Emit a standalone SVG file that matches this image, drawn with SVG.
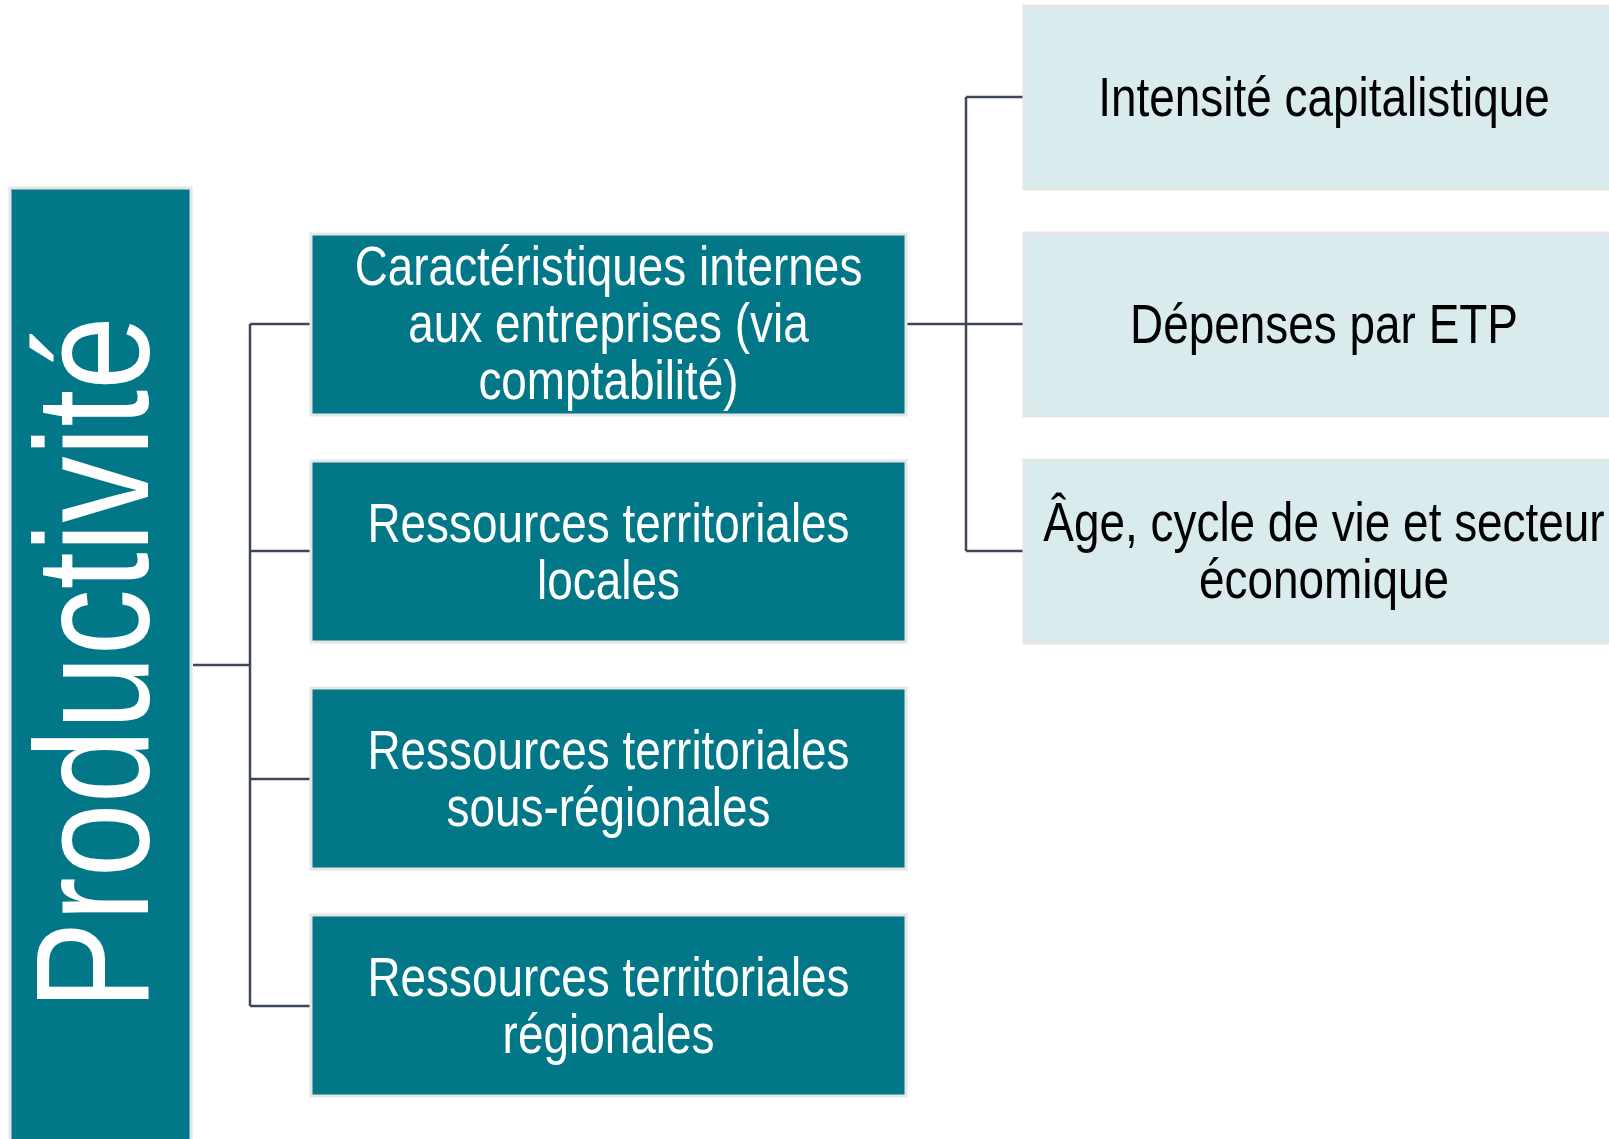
<svg xmlns="http://www.w3.org/2000/svg" width="1609" height="1139" viewBox="0 0 1609 1139">
<style>
.dark{fill:#017788;stroke:#E6E6E6;stroke-width:3}
.light{fill:#DAEBEE;stroke:#E6E6E6;stroke-width:3}
.t{font-family:"Liberation Sans",Arial,sans-serif;font-size:56px;text-anchor:middle}
.w{fill:#FFFFFF}
.b{fill:#000000}
.big{font-family:"Liberation Sans",Arial,sans-serif;font-size:162px;text-anchor:middle;fill:#FFFFFF}
.c{fill:none;stroke:#3D4759;stroke-width:2.5}
</style>
<rect width="1609" height="1139" fill="#FFFFFF"/>
<g id="connectors">
<path class="c" d="M193 665H250M250 324V1006M250 324H311M250 551H311M250 779H311M250 1006H311"/>
<path class="c" d="M906 324H966M966 97V551M966 97H1024M966 324H1024M966 551H1024"/>
</g>
<g id="productivite">
<rect class="dark" x="10" y="188" width="181" height="960"/>
<text class="big" transform="translate(148,663) rotate(-90) scale(0.82,1)">Productivité</text>
</g>
<g id="caracteristiques">
<rect class="dark" x="311" y="234" width="595" height="181"/>
<text class="t w" transform="matrix(0.82 0 0 1 608.5 285)">Caractéristiques internes</text>
<text class="t w" transform="matrix(0.82 0 0 1 608.5 342)">aux entreprises (via</text>
<text class="t w" transform="matrix(0.82 0 0 1 608.5 399)">comptabilité)</text>
</g>
<g id="locales">
<rect class="dark" x="311" y="461" width="595" height="181"/>
<text class="t w" transform="matrix(0.82 0 0 1 608.5 542)">Ressources territoriales</text>
<text class="t w" transform="matrix(0.82 0 0 1 608.5 599)">locales</text>
</g>
<g id="sous-regionales">
<rect class="dark" x="311" y="688" width="595" height="181"/>
<text class="t w" transform="matrix(0.82 0 0 1 608.5 769)">Ressources territoriales</text>
<text class="t w" transform="matrix(0.82 0 0 1 608.5 826)">sous-régionales</text>
</g>
<g id="regionales">
<rect class="dark" x="311" y="915" width="595" height="181"/>
<text class="t w" transform="matrix(0.82 0 0 1 608.5 996)">Ressources territoriales</text>
<text class="t w" transform="matrix(0.82 0 0 1 608.5 1053)">régionales</text>
</g>
<g id="intensite">
<rect class="light" x="1024" y="6" width="600" height="183"/>
<text class="t b" transform="matrix(0.82 0 0 1 1324 116)">Intensité capitalistique</text>
</g>
<g id="depenses">
<rect class="light" x="1024" y="233" width="600" height="183"/>
<text class="t b" transform="matrix(0.82 0 0 1 1324 343)">Dépenses par ETP</text>
</g>
<g id="age">
<rect class="light" x="1024" y="460" width="600" height="183"/>
<text class="t b" transform="matrix(0.82 0 0 1 1324 541)">Âge, cycle de vie et secteur</text>
<text class="t b" transform="matrix(0.82 0 0 1 1324 598)">économique</text>
</g>
</svg>
